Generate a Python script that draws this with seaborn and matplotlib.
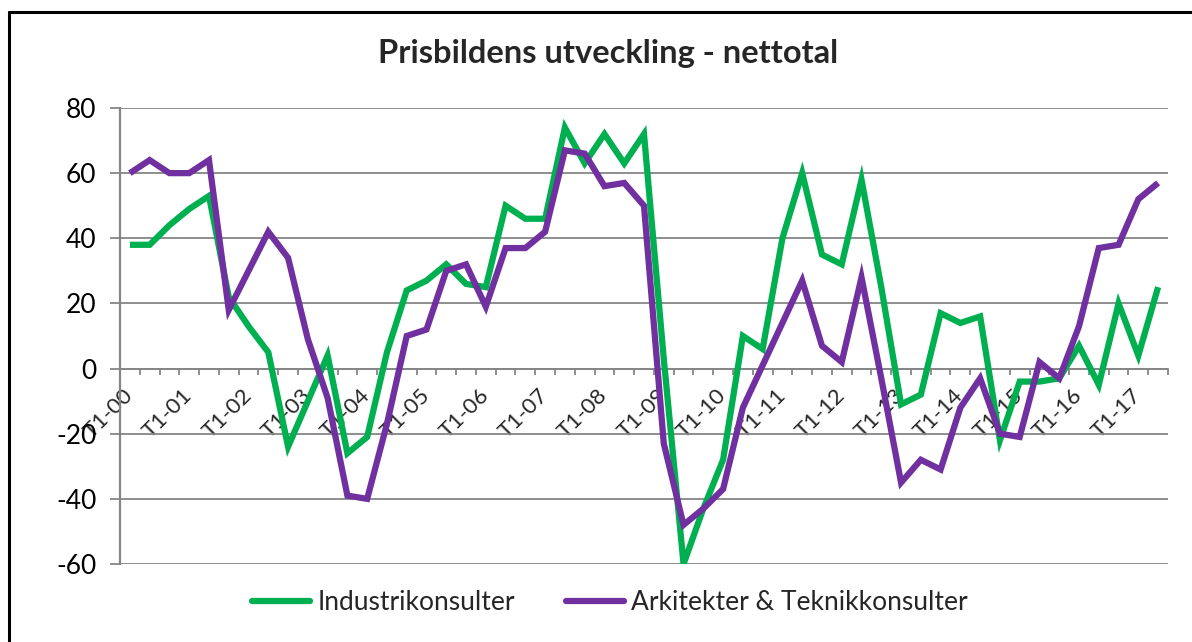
import matplotlib
matplotlib.use("Agg")
import matplotlib.pyplot as plt
import seaborn as sns
import pandas as pd
from matplotlib.lines import Line2D

# ---- data ----
periods = [
    "T1-00", "T2-00", "T3-00", "T1-01", "T2-01", "T3-01", "T1-02", "T2-02", "T3-02",
    "T1-03", "T2-03", "T3-03", "T1-04", "T2-04", "T3-04", "T1-05", "T2-05", "T3-05",
    "T1-06", "T2-06", "T3-06", "T1-07", "T2-07", "T3-07", "T1-08", "T2-08", "T3-08",
    "T1-09", "T2-09", "T3-09", "T1-10", "T2-10", "T3-10", "T1-11", "T2-11", "T3-11",
    "T1-12", "T2-12", "T3-12", "T1-13", "T2-13", "T3-13", "T1-14", "T2-14", "T3-14",
    "T1-15", "T2-15", "T3-15", "T1-16", "T2-16", "T3-16", "T1-17", "T2-17",
]
industrikonsulter = [
    38, 38, 44, 49, 53, 22, 13, 5, -24, -10, 4, -26, -21, 5, 24, 27, 32, 26,
    25, 50, 46, 46, 74, 63, 72, 63, 72, 3, -60, -43, -28, 10, 6, 40, 60, 35,
    32, 58, 25, -11, -8, 17, 14, 16, -22, -4, -4, -3, 7, -5, 20, 4, 25,
]
arkitekter = [
    60, 64, 60, 60, 64, 18, 30, 42, 34, 9, -9, -39, -40, -17, 10, 12, 30, 32,
    19, 37, 37, 42, 67, 66, 56, 57, 50, -23, -48, -43, -37, -12, 1, 14, 27, 7,
    2, 28, -3, -35, -28, -31, -12, -3, -20, -21, 2, -3, 13, 37, 38, 52, 57,
]
series_names = ["Industrikonsulter", "Arkitekter & Teknikkonsulter"]
series_colors = ["#00B050", "#7030A0"]
shown_labels = ["T1-00", "T1-01", "T1-02", "T1-03", "T1-04", "T1-05", "T1-06",
                "T1-07", "T1-08", "T1-09", "T1-10", "T1-11", "T1-12", "T1-13",
                "T1-14", "T1-15", "T1-16", "T1-17"]
y_ticks = [-60, -40, -20, 0, 20, 40, 60, 80]

df = pd.DataFrame({
    "idx": list(range(len(periods))) * 2,
    "period": periods * 2,
    "value": industrikonsulter + arkitekter,
    "series": [series_names[0]] * len(periods) + [series_names[1]] * len(periods),
})

# ---- style ----
sns.set_theme(style="white")
plt.rcParams["font.family"] = ["Lato", "DejaVu Sans"]

W, H = 1192, 642
fig = plt.figure(figsize=(W / 100, H / 100), dpi=100)
ax = fig.add_axes([120 / W, 1 - 564 / H, (1168 - 120) / W, (564 - 108) / H])

grid_c = "#868686"
lw = 4.5

sns.lineplot(data=df, x="idx", y="value", hue="series", hue_order=series_names,
             palette=series_colors, linewidth=lw, ax=ax, legend=False,
             zorder=4, solid_joinstyle="miter")
for ln in ax.lines:
    ln.set_solid_capstyle("butt")

ax.set_xlim(-0.5, len(periods) - 0.5)
ax.set_ylim(-60, 80)
ax.set_xlabel("")
ax.set_ylabel("")

# y axis
ax.set_yticks(y_ticks)
ax.set_yticklabels([str(v) for v in y_ticks])
ax.yaxis.grid(True, color=grid_c, linewidth=1.3, zorder=0)
ax.set_axisbelow(True)
ax.tick_params(axis="y", which="major", direction="out", length=7, width=1.3,
               color=grid_c, pad=10, labelsize=19, labelcolor="black", left=True)

# x axis at zero
for s in ["top", "right"]:
    ax.spines[s].set_visible(False)
ax.spines["left"].set_color(grid_c)
ax.spines["left"].set_linewidth(1.6)
ax.spines["bottom"].set_position(("data", 0))
ax.spines["bottom"].set_color(grid_c)
ax.spines["bottom"].set_linewidth(1.3)

label_pos = [periods.index(l) for l in shown_labels]
ax.set_xticks(label_pos)
ax.set_xticklabels(shown_labels, rotation=45, ha="right", va="center",
                   rotation_mode="anchor", fontsize=16)
ax.set_xticks([i - 0.5 for i in range(len(periods) + 1)], minor=True)
ax.tick_params(axis="x", which="major", length=0, pad=17, bottom=True)
ax.tick_params(axis="x", which="minor", direction="out", length=4, width=1.3,
               color=grid_c, bottom=True)

# title
fig.text(608 / W, 1 - 53 / H, "Prisbildens utveckling - nettotal",
         ha="center", va="center", fontsize=23.5, fontweight="bold")

# legend
handles = [Line2D([0], [0], color=c, linewidth=lw) for c in series_colors]
fig.legend(handles, series_names, loc="center", bbox_to_anchor=(610 / W, 1 - 603 / H),
           ncol=2, frameon=False, fontsize=19, handlelength=2.2,
           handletextpad=0.3, columnspacing=1.9)

# outer frame
fig.add_artist(Line2D([9 / W, 9 / W], [0, 1 - 12 / H], color="black", linewidth=2.2,
                      transform=fig.transFigure))
fig.add_artist(Line2D([9 / W, 1], [1 - 12 / H, 1 - 12 / H], color="black",
                      linewidth=2.2, transform=fig.transFigure))

fig.savefig("out.png", dpi=100, facecolor="white")
